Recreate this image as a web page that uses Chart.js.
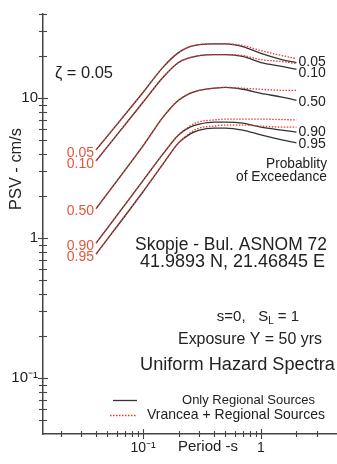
<!DOCTYPE html>
<html><head><meta charset="utf-8">
<script src="https://cdn.jsdelivr.net/npm/chart.js@4/dist/chart.umd.min.js"></script>
<style>html,body{margin:0;padding:0;background:#fff;}canvas{display:block;}</style>
</head><body>
<canvas id="c" width="337" height="464"></canvas>
<script>
// ---- data ----
const periods = [0.04, 0.1, 0.15, 0.2, 0.25, 0.3, 0.4, 0.5, 0.7, 1, 1.5, 2];
const probabilities = ['0.05', '0.10', '0.50', '0.90', '0.95'];
// Only Regional Sources (solid)
const regional_005 = [4.28, 11.0, 16.9, 21.2, 23.4, 24.2, 24.5, 24.5, 23.4, 20.9, 18.9, 18.0];
const regional_010 = [3.57, 9.37, 14.3, 18.0, 19.5, 20.2, 20.5, 20.5, 19.9, 18.0, 16.9, 16.1];
const regional_050 = [1.63, 4.57, 7.45, 9.68, 10.85, 11.4, 11.8, 11.97, 11.6, 10.85, 10.2, 9.68];
const regional_090 = [0.922, 2.58, 4.07, 5.47, 6.23, 6.54, 6.76, 6.76, 6.65, 6.23, 5.93, 5.74];
const regional_095 = [0.77, 2.15, 3.46, 4.80, 5.55, 5.93, 6.13, 6.13, 5.93, 5.47, 5.04, 4.80];
// Vrancea + Regional Sources (dotted)
const vrancea_005 = [4.28, 11.0, 16.9, 21.2, 23.4, 24.2, 24.5, 24.5, 23.8, 21.9, 20.2, 19.2];
const vrancea_010 = [3.57, 9.37, 14.3, 18.0, 19.5, 20.2, 20.5, 20.5, 20.2, 18.9, 18.3, 17.7];
const vrancea_050 = [1.63, 4.57, 7.45, 9.68, 10.85, 11.4, 11.8, 11.97, 11.8, 11.6, 11.4, 11.4];
const vrancea_090 = [0.922, 2.58, 4.07, 5.47, 6.33, 6.8, 7.0, 7.1, 7.1, 7.1, 7.05, 7.0];
const vrancea_095 = [0.77, 2.15, 3.46, 4.80, 5.65, 6.13, 6.33, 6.44, 6.44, 6.33, 6.23, 6.23];
// axes
const xTicks = [0.02,0.03,0.04,0.05,0.06,0.07,0.08,0.09,0.1,0.2,0.3,0.4,0.5,0.6,0.7,0.8,0.9,1,2,3];
const xMajor = [0.1, 1];
const xTickLabels = ['10\u207B\u00B9', '1'];
const yTicks = [0.05,0.06,0.07,0.08,0.09,0.1,0.2,0.3,0.4,0.5,0.6,0.7,0.8,0.9,1,2,3,4,5,6,7,8,9,10,20,30,40];
const yMajor = [0.1, 1, 10];
const yTickLabels = ['10\u207B\u00B9', '1', '10'];

const regional = [regional_005, regional_010, regional_050, regional_090, regional_095];
const vrancea = [vrancea_005, vrancea_010, vrancea_050, vrancea_090, vrancea_095];

const FONT = '"Liberation Sans", Arial, Helvetica, sans-serif';
const SOLID = '#333333';
const DOTTED = '#e8392e';
const LEFTLAB = '#e2563c';

const toPts = arr => periods.map((p, i) => ({x: p, y: arr[i]}));
const datasets = [];
vrancea.forEach((arr, i) => datasets.push({
  label: 'Vrancea + Regional Sources ' + probabilities[i], data: toPts(arr),
  borderColor: DOTTED, borderWidth: 1.3, borderDash: [1.5, 1.5], order: 1
}));
regional.forEach((arr, i) => datasets.push({
  label: 'Only Regional Sources ' + probabilities[i], data: toPts(arr),
  borderColor: SOLID, borderWidth: 1.3, order: 2
}));

function fitText(ctx, text, cx, cy, w, align) {
  ctx.font = '20px ' + FONT;
  const m = ctx.measureText(text).width;
  const size = 20 * w / m;
  ctx.font = size.toFixed(2) + 'px ' + FONT;
  ctx.textAlign = 'center';
  ctx.textBaseline = 'middle';
  ctx.fillText(text, cx, cy);
}

const decor = {
  id: 'decor',
  afterDraw(chart) {
    const ctx = chart.ctx, xs = chart.scales.x, ys = chart.scales.y;
    ctx.save();
    // crossing tick marks
    ctx.strokeStyle = '#444'; ctx.lineWidth = 1.1;
    xs.ticks.forEach(t => {
      const px = Math.round(xs.getPixelForValue(t.value)) + 0.5;
      const L = xMajor.includes(t.value) ? 5 : 3;
      ctx.beginPath(); ctx.moveTo(px, xs.top - L); ctx.lineTo(px, xs.top + L); ctx.stroke();
    });
    ys.ticks.forEach(t => {
      const py = Math.round(ys.getPixelForValue(t.value)) + 0.5;
      const L = yMajor.includes(t.value) ? 5 : 4;
      ctx.beginPath(); ctx.moveTo(ys.right - L, py); ctx.lineTo(ys.right + L, py); ctx.stroke();
    });
    // curve labels
    ctx.font = '14px ' + FONT;
    ctx.textBaseline = 'middle';
    const rightNudge = [0, 4, 2, 0, 1];
    probabilities.forEach((p, i) => {
      const x0 = xs.getPixelForValue(periods[0]);
      const y0 = ys.getPixelForValue(regional[i][0]);
      ctx.fillStyle = LEFTLAB; ctx.textAlign = 'right';
      ctx.fillText(p, x0 - 2, y0 + 3);
      const n = periods.length - 1;
      const x1 = xs.getPixelForValue(periods[n]);
      const y1 = ys.getPixelForValue(regional[i][n]);
      ctx.fillStyle = '#222'; ctx.textAlign = 'left';
      ctx.fillText(p, x1 + 2, y1 + rightNudge[i]);
    });
    // annotations
    ctx.fillStyle = '#222';
    fitText(ctx, '\u03B6 = 0.05', 84, 73, 58);
    fitText(ctx, 'Probablity', 296.5, 164, 61);
    fitText(ctx, 'of Exceedance', 281.5, 177, 91);
    fitText(ctx, 'Skopje - Bul. ASNOM 72', 231, 245, 192);
    fitText(ctx, '41.9893 N, 21.46845 E', 232.5, 262, 185);
    fitText(ctx, 'Exposure Y = 50 yrs', 250, 340, 144);
    fitText(ctx, 'Uniform Hazard Spectra', 237.5, 365, 195);
    fitText(ctx, 'Only Regional Sources', 248.5, 400, 133);
    fitText(ctx, 'Vrancea + Regional Sources', 236, 415, 178);
    fitText(ctx, 'Period -s', 208, 447, 60);
    // s=0,  S_L = 1
    {
      const fs = 15, sub = 10;
      const a = 's=0,   S', b = 'L', c = ' = 1';
      ctx.font = fs + 'px ' + FONT; const wa = ctx.measureText(a).width, wc = ctx.measureText(c).width;
      ctx.font = sub + 'px ' + FONT; const wb = ctx.measureText(b).width;
      const total = wa + wb + wc; let x = 258 - total / 2; const y = 317;
      ctx.textAlign = 'left'; ctx.textBaseline = 'middle';
      ctx.font = fs + 'px ' + FONT; ctx.fillText(a, x, y); x += wa;
      ctx.font = sub + 'px ' + FONT; ctx.fillText(b, x, y + 4); x += wb;
      ctx.font = fs + 'px ' + FONT; ctx.fillText(c, x, y);
    }
    // y title
    ctx.save(); ctx.translate(16, 169); ctx.rotate(-Math.PI / 2);
    fitText(ctx, 'PSV - cm/s', 0, 0, 82); ctx.restore();
    // legend samples
    ctx.lineWidth = 1.3;
    ctx.strokeStyle = SOLID; ctx.setLineDash([]);
    ctx.beginPath(); ctx.moveTo(113, 400.5); ctx.lineTo(137, 400.5); ctx.stroke();
    ctx.strokeStyle = DOTTED; ctx.setLineDash([1.5, 1.5]);
    ctx.beginPath(); ctx.moveTo(110, 415.5); ctx.lineTo(137, 415.5); ctx.stroke();
    ctx.restore();
  }
};

new Chart(document.getElementById('c'), {
  type: 'line',
  data: { datasets },
  options: {
    responsive: false, animation: false,
    layout: { padding: { top: 12, right: 0, left: 0, bottom: 0 } },
    elements: { point: { radius: 0 }, line: { cubicInterpolationMode: 'monotone', fill: false } },
    plugins: { legend: { display: false }, tooltip: { enabled: false } },
    scales: {
      x: {
        type: 'logarithmic', min: 0.0142, max: 4.41,
        afterBuildTicks: s => { s.ticks = xTicks.map(v => ({value: v})); },
        afterFit: s => { s.height = 30; },
        grid: { display: false, drawTicks: false },
        border: { display: true, color: '#444', width: 1.5 },
        ticks: {
          autoSkip: false, maxRotation: 0, padding: 6, color: '#222',
          font: { size: 14, family: FONT },
          callback: v => { const k = xMajor.indexOf(v); return k >= 0 ? xTickLabels[k] : ''; }
        }
      },
      y: {
        type: 'logarithmic', min: 0.04, max: 40,
        afterBuildTicks: s => { s.ticks = yTicks.map(v => ({value: v})); },
        afterFit: s => { s.width = 43; },
        grid: { display: false, drawTicks: false },
        border: { display: true, color: '#444', width: 1.5 },
        ticks: {
          autoSkip: false, padding: 5, color: '#222',
          font: { size: 15, family: FONT },
          callback: v => { const k = yMajor.indexOf(v); return k >= 0 ? yTickLabels[k] : ''; }
        }
      }
    }
  },
  plugins: [decor]
});
</script>
</body></html>
